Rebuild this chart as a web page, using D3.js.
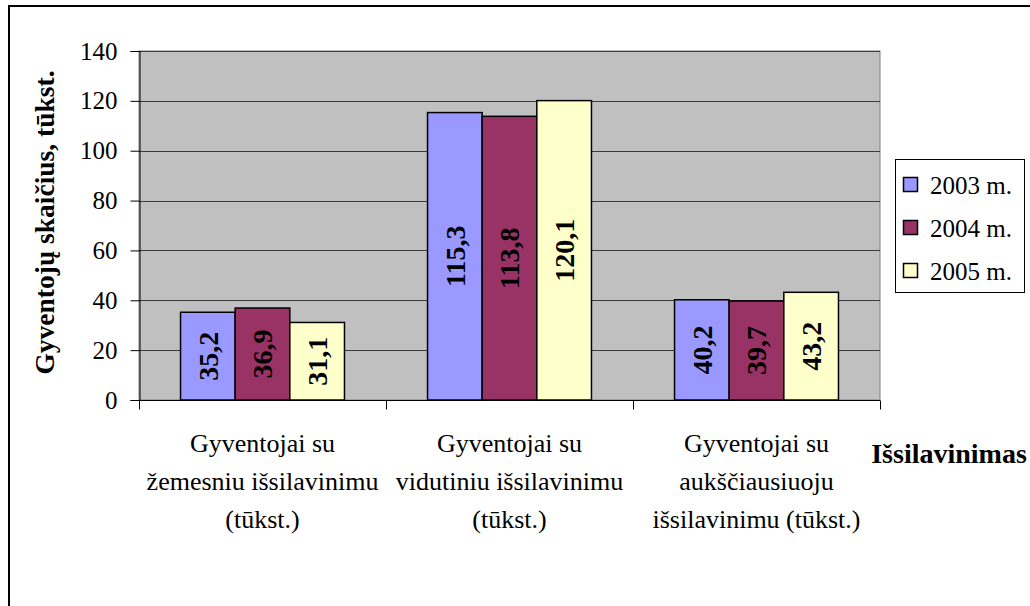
<!DOCTYPE html>
<html>
<head>
<meta charset="utf-8">
<script src="https://cdn.jsdelivr.net/npm/d3@7"></script>
<style>
  body { margin: 0; background: #fff; }
  svg { display: block; font-family: "Liberation Serif", "Times New Roman", serif; }
</style>
</head>
<body>
<div id="chart"></div>
<script>
// duomenys
const categories = [
  ['Gyventojai su', 'žemesniu išsilavinimu', '(tūkst.)'],
  ['Gyventojai su', 'vidutiniu išsilavinimu', '(tūkst.)'],
  ['Gyventojai su', 'aukščiausiuoju', 'išsilavinimu (tūkst.)']
];
const seriesNames = ['2003 m.', '2004 m.', '2005 m.'];
const values2003 = [35.2, 115.3, 40.2];
const values2004 = [36.9, 113.8, 39.7];
const values2005 = [31.1, 120.1, 43.2];
const yTicks = [0, 20, 40, 60, 80, 100, 120, 140];
const colors = ['#9999ff', '#993366', '#ffffcc'];

const W = 1030, H = 606;
const plot = {left: 139, top: 51, right: 880, bottom: 400};

const svg = d3.select('#chart').append('svg')
  .attr('width', W).attr('height', H);

// rėmelis
svg.append('rect')
  .attr('x', 9).attr('y', 6).attr('width', W + 20).attr('height', H + 20)
  .attr('fill', '#fff').attr('stroke', '#000').attr('stroke-width', 2);

const x0 = d3.scaleBand().domain(d3.range(categories.length))
  .range([plot.left, plot.right]).padding(0);
const x1 = d3.scaleBand().domain(d3.range(seriesNames.length))
  .range([0, x0.bandwidth()]).paddingInner(0).paddingOuter(0.76);
const y = d3.scaleLinear().domain([0, 140]).range([plot.bottom, plot.top]);

// fonas
svg.append('rect')
  .attr('x', plot.left).attr('y', plot.top)
  .attr('width', plot.right - plot.left).attr('height', plot.bottom - plot.top)
  .attr('fill', '#c0c0c0').attr('stroke', '#808080').attr('stroke-width', 1);

// tinklelis
svg.append('g').selectAll('line')
  .data(yTicks.filter(d => d > 0))
  .enter().append('line')
  .attr('x1', plot.left).attr('x2', plot.right)
  .attr('y1', d => Math.round(y(d)) + 0.5).attr('y2', d => Math.round(y(d)) + 0.5)
  .attr('stroke', '#3a3a3a').attr('stroke-width', 1);

// Y ašis
const yAxis = svg.append('g')
  .attr('transform', `translate(${plot.left + 0.5},0)`)
  .call(d3.axisLeft(y).tickValues(yTicks).tickSize(9).tickPadding(13).tickFormat(d3.format('d')));
yAxis.select('.domain').attr('stroke', '#000');
yAxis.selectAll('.tick line').attr('stroke', '#000');
yAxis.selectAll('text')
  .attr('font-family', '"Liberation Serif", serif')
  .attr('font-size', 25).attr('fill', '#000');

// stulpeliai
const seriesValues = [values2003, values2004, values2005];
const groups = svg.append('g').selectAll('g')
  .data(categories.map((c, i) => i))
  .enter().append('g')
  .attr('transform', i => `translate(${x0(i)},0)`);

groups.each(function(ci) {
  const g = d3.select(this);
  seriesValues.forEach((vals, si) => {
    const v = vals[ci];
    g.append('rect')
      .attr('x', x1(si)).attr('y', y(v))
      .attr('width', x1.bandwidth()).attr('height', y(0) - y(v))
      .attr('fill', colors[si]).attr('stroke', '#000').attr('stroke-width', 1.5);
    const cx = x1(si) + x1.bandwidth() / 2;
    const cy = (y(v) + y(0)) / 2;
    g.append('text')
      .attr('transform', `translate(${cx},${cy}) rotate(-90)`)
      .attr('text-anchor', 'middle').attr('dy', '0.35em')
      .attr('font-weight', 'bold').attr('font-size', 28)
      .text(String(v).replace('.', ','));
  });
});

// X ašis
const xAxisY = plot.bottom + 0.5;
svg.append('line')
  .attr('x1', plot.left).attr('x2', plot.right)
  .attr('y1', xAxisY).attr('y2', xAxisY)
  .attr('stroke', '#000');
svg.append('g').selectAll('line')
  .data(d3.range(categories.length + 1))
  .enter().append('line')
  .attr('x1', i => Math.round(plot.left + i * x0.step()) + 0.5)
  .attr('x2', i => Math.round(plot.left + i * x0.step()) + 0.5)
  .attr('y1', xAxisY).attr('y2', xAxisY + 9)
  .attr('stroke', '#000');

// kategorijų pavadinimai
const catText = svg.append('g').selectAll('text')
  .data(categories)
  .enter().append('text')
  .attr('text-anchor', 'middle')
  .attr('font-size', 26)
  .attr('x', (d, i) => x0(i) + x0.bandwidth() / 2);
catText.selectAll('tspan')
  .data((d, i) => d.map(t => ({t, i})))
  .enter().append('tspan')
  .attr('x', d => x0(d.i) + x0.bandwidth() / 2)
  .attr('y', (d, j) => 452 + j * 38)
  .text(d => d.t);

// ašių pavadinimai
svg.append('text')
  .attr('transform', `translate(54,${(plot.top + plot.bottom) / 2 - 3}) rotate(-90)`)
  .attr('text-anchor', 'middle')
  .attr('font-weight', 'bold').attr('font-size', 27.5)
  .text('Gyventojų skaičius, tūkst.');

svg.append('text')
  .attr('x', 949).attr('y', 463)
  .attr('text-anchor', 'middle')
  .attr('font-weight', 'bold').attr('font-size', 28)
  .text('Išsilavinimas');

// legenda
const legend = svg.append('g');
legend.append('rect')
  .attr('x', 895.5).attr('y', 159.5).attr('width', 129).attr('height', 133)
  .attr('fill', '#fff').attr('stroke', '#000').attr('stroke-width', 1);
const rowY = d3.scalePoint().domain(seriesNames).range([185, 271]);
const items = legend.selectAll('g.item')
  .data(seriesNames)
  .enter().append('g').attr('class', 'item')
  .attr('transform', d => `translate(0,${rowY(d)})`);
items.append('rect')
  .attr('x', 903.5).attr('y', -7.5).attr('width', 14).attr('height', 14)
  .attr('fill', (d, i) => colors[i]).attr('stroke', '#000').attr('stroke-width', 1.5);
items.append('text')
  .attr('x', 930).attr('dy', '0.35em')
  .attr('font-size', 25)
  .text(d => d);
</script>
</body>
</html>
